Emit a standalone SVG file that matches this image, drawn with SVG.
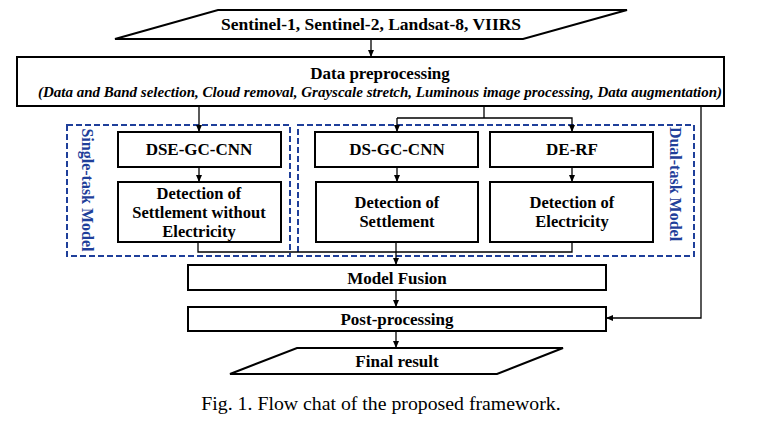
<svg xmlns="http://www.w3.org/2000/svg" width="765" height="424" viewBox="0 0 765 424">
<style>
.box{fill:#fff;stroke:#000;stroke-width:2}
.t{font-family:"Liberation Serif","Times New Roman",serif;font-weight:bold;font-size:17px;fill:#000;text-anchor:middle}
.d{font-size:16.5px}
.ti{font-family:"Liberation Serif","Times New Roman",serif;font-weight:bold;font-style:italic;font-size:15px;fill:#000;text-anchor:middle}
.cap{font-family:"Liberation Serif","Times New Roman",serif;font-size:19.8px;fill:#000;text-anchor:middle}
.dash{fill:none;stroke:#1f3f9a;stroke-width:2;stroke-dasharray:6,3}
.bl{font-family:"Liberation Serif","Times New Roman",serif;font-weight:bold;font-size:16px;fill:#1f3f9a;text-anchor:middle}
.c{fill:none;stroke:#000;stroke-width:1.3}
</style>
<defs>
<marker id="ah" markerWidth="8" markerHeight="8" refX="7" refY="4" orient="auto" markerUnits="userSpaceOnUse">
<path d="M0,1 L7,4 L0,7 Z" fill="#000"/>
</marker>
</defs>
<rect width="765" height="424" fill="#fff"/>

<g id="group-single">
<rect class="dash" x="67" y="125" width="223" height="131"/>
<text class="bl" transform="translate(82,190) rotate(90)">Single-task Model</text>
</g>
<g id="group-dual">
<rect class="dash" x="298" y="125" width="396" height="131"/>
<text class="bl" transform="translate(670,184) rotate(90)">Dual-task Model</text>
</g>

<g id="connectors">
<line class="c" x1="371" y1="39" x2="371" y2="57" marker-end="url(#ah)"/>
<line class="c" x1="199" y1="106" x2="199" y2="132" marker-end="url(#ah)"/>
<polyline class="c" points="484,106 484,118"/>
<polyline class="c" points="397,118 572,118 572,132" marker-end="url(#ah)"/>
<line class="c" x1="397" y1="118" x2="397" y2="132" marker-end="url(#ah)"/>
<line class="c" x1="199" y1="167" x2="199" y2="182" marker-end="url(#ah)"/>
<line class="c" x1="397" y1="167" x2="397" y2="182" marker-end="url(#ah)"/>
<line class="c" x1="572" y1="167" x2="572" y2="182" marker-end="url(#ah)"/>
<polyline class="c" points="198,242 198,252 572,252 572,242"/>
<line class="c" x1="396" y1="242" x2="396" y2="265" marker-end="url(#ah)"/>
<line class="c" x1="396" y1="290" x2="396" y2="307" marker-end="url(#ah)"/>
<line class="c" x1="396" y1="331" x2="396" y2="348" marker-end="url(#ah)"/>
<polyline class="c" points="701,106 701,318 606,318" marker-end="url(#ah)"/>
</g>

<g id="input">
<polygon class="box" points="218,10 627,10 523,39 115,39"/>
<text class="t" x="371" y="30" style="font-size:17.5px">Sentinel-1, Sentinel-2, Landsat-8, VIIRS</text>
</g>
<g id="preprocessing">
<rect class="box" x="17" y="57" width="707" height="49"/>
<text class="t" x="380" y="79">Data preprocessing</text>
<text class="ti" x="380" y="97">(Data and Band selection, Cloud removal, Grayscale stretch, Luminous image processing, Data augmentation)</text>
</g>
<g id="dse-gc-cnn">
<rect class="box" x="118" y="132" width="163" height="35"/>
<text class="t" x="199" y="155">DSE-GC-CNN</text>
</g>
<g id="det-swe">
<rect class="box" x="118" y="182" width="163" height="60"/>
<text class="t d" x="199" y="199">Detection of</text>
<text class="t d" x="199" y="218">Settlement without</text>
<text class="t d" x="199" y="237">Electricity</text>
</g>
<g id="ds-gc-cnn">
<rect class="box" x="315" y="132" width="163" height="35"/>
<text class="t" x="397" y="155">DS-GC-CNN</text>
</g>
<g id="det-s">
<rect class="box" x="316" y="182" width="162" height="60"/>
<text class="t d" x="397" y="208">Detection of</text>
<text class="t d" x="397" y="227">Settlement</text>
</g>
<g id="de-rf">
<rect class="box" x="490" y="132" width="163" height="35"/>
<text class="t" x="572" y="155">DE-RF</text>
</g>
<g id="det-e">
<rect class="box" x="490" y="182" width="163" height="60"/>
<text class="t d" x="572" y="208">Detection of</text>
<text class="t d" x="572" y="227">Electricity</text>
</g>
<g id="model-fusion">
<rect class="box" x="188" y="265" width="418" height="25"/>
<text class="t" x="397" y="283.5">Model Fusion</text>
</g>
<g id="post-processing">
<rect class="box" x="188" y="307" width="418" height="24"/>
<text class="t" x="397" y="325">Post-processing</text>
</g>
<g id="final">
<polygon class="box" points="297,348 563,348 497,374 230,374"/>
<text class="t" x="397" y="367">Final result</text>
</g>
<text class="cap" x="381" y="409.5">Fig. 1. Flow chat of the proposed framework.</text>
</svg>
